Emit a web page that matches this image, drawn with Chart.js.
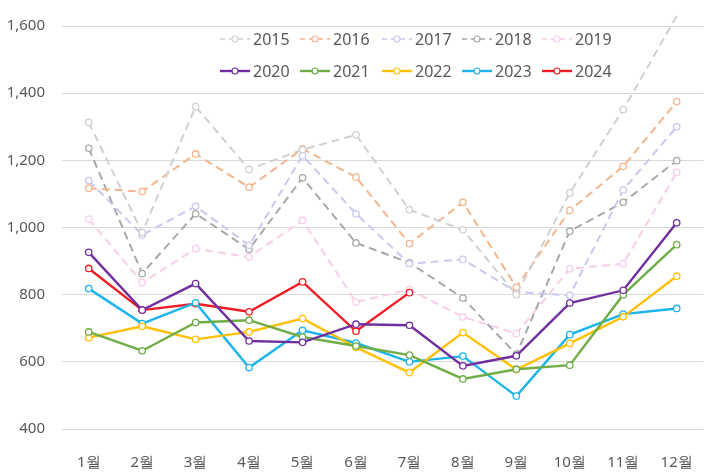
<!DOCTYPE html>
<html>
<head>
<meta charset="utf-8">
<script src="https://cdn.jsdelivr.net/npm/chart.js@4/dist/chart.umd.min.js"></script>
<style>
  html, body { margin: 0; padding: 0; background: #fff; }
  #wrap { width: 710px; height: 475px; position: relative; }
</style>
</head>
<body>
<div id="wrap"><canvas id="chart"></canvas></div>
<script>
const months = ['1월', '2월', '3월', '4월', '5월', '6월', '7월', '8월', '9월', '10월', '11월', '12월'];
const yTicks = [400, 600, 800, 1000, 1200, 1400, 1600];

const y2015 = [1313, 985, 1360, 1173, 1232, 1276, 1053, 993, 800, 1103, 1351, 1630];
const y2016 = [1117, 1107, 1219, 1120, 1234, 1150, 952, 1075, 822, 1051, 1182, 1375];
const y2017 = [1140, 978, 1063, 947, 1214, 1041, 892, 905, 808, 798, 1112, 1300];
const y2018 = [1236, 863, 1041, 935, 1148, 954, 895, 790, 622, 989, 1075, 1199];
const y2019 = [1025, 836, 937, 912, 1021, 778, 815, 734, 684, 877, 892, 1164];
const y2020 = [926, 754, 833, 662, 658, 712, 709, 588, 618, 775, 813, 1014];
const y2021 = [689, 633, 717, 724, 674, 647, 620, 549, 578, 590, 800, 949];
const y2022 = [672, 706, 667, 689, 729, 643, 568, 687, 577, 655, 734, 855];
const y2023 = [818, 714, 776, 583, 694, 656, 600, 617, 498, 681, 742, 759];
const y2024 = [878, 754, 773, 749, 838, 691, 806, null, null, null, null, null];

const years = ['2015', '2016', '2017', '2018', '2019', '2020', '2021', '2022', '2023', '2024'];
const series = [y2015, y2016, y2017, y2018, y2019, y2020, y2021, y2022, y2023, y2024];
const colors = ['#d0d0d0', '#f4b58c', '#c8c8f0', '#a8a8a8', '#f7cdea',
                '#7030a0', '#70ad47', '#ffc000', '#1cb4ea', '#f01c24'];

function makeDataset(i) {
    const dashed = i < 5;
    return {
        label: years[i],
        data: series[i],
        borderColor: colors[i],
        backgroundColor: '#ffffff',
        borderWidth: dashed ? 2 : 2.4,
        borderDash: dashed ? [8, 5] : [],
        pointRadius: 3.2,
        pointBorderWidth: 1.3,
        pointBackgroundColor: '#ffffff',
        pointBorderColor: colors[i],
        tension: 0,
        spanGaps: false,
        clip: false,
        order: dashed ? 2 : 1
    };
}

// legend drawn inside the plot area, two rows of five
const legendPlugin = {
    id: 'innerLegend',
    afterDraw(chart) {
        const ctx = chart.ctx;
        const xs = [220, 300, 382, 462, 542];
        const rows = [39, 71];
        ctx.save();
        ctx.font = '16px "Noto Sans", sans-serif';
        ctx.textBaseline = 'middle';
        ctx.textAlign = 'left';
        chart.data.datasets.forEach((ds, i) => {
            const x = xs[i % 5];
            const y = rows[Math.floor(i / 5)];
            ctx.strokeStyle = ds.borderColor;
            ctx.lineWidth = i < 5 ? 1.6 : 2.4;
            ctx.setLineDash(i < 5 ? [5, 4] : []);
            ctx.beginPath();
            ctx.moveTo(x, y);
            ctx.lineTo(x + 30, y);
            ctx.stroke();
            ctx.setLineDash([]);
            ctx.fillStyle = '#ffffff';
            ctx.lineWidth = 1.2;
            ctx.beginPath();
            ctx.arc(x + 15, y, 3, 0, Math.PI * 2);
            ctx.fill();
            ctx.stroke();
            ctx.fillStyle = '#595959';
            ctx.fillText(ds.label, x + 33, y + 1);
        });
        ctx.restore();
    }
};

new Chart(document.getElementById('chart'), {
    type: 'line',
    data: {
        labels: months,
        datasets: years.map((_, i) => makeDataset(i))
    },
    options: {
        responsive: true,
        maintainAspectRatio: false,
        animation: false,
        layout: { padding: { top: 25, right: 4, left: 0, bottom: 0 } },
        plugins: {
            legend: { display: false },
            tooltip: { enabled: false }
        },
        scales: {
            x: {
                offset: true,
                grid: { display: false },
                border: { display: false },
                ticks: {
                    color: '#595959',
                    font: { family: '"Noto Sans", sans-serif', size: 15 },
                    padding: 17,
                    maxRotation: 0
                },
                afterFit: s => { s.height = 46; }
            },
            y: {
                min: 400,
                max: 1600,
                afterBuildTicks: s => { s.ticks = yTicks.map(v => ({ value: v })); },
                grid: { color: '#d9d9d9', lineWidth: 1, drawTicks: false },
                border: { display: false },
                ticks: {
                    color: '#595959',
                    font: { family: '"Noto Sans", sans-serif', size: 15 },
                    padding: 17,
                    callback: v => v.toLocaleString('en-US')
                },
                afterFit: s => { s.width = 62; }
            }
        }
    },
    plugins: [legendPlugin]
});
</script>
</body>
</html>
